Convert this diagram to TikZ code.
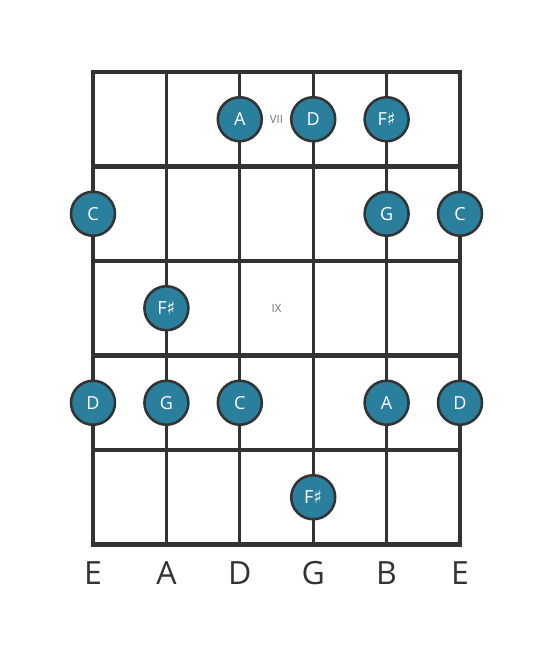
\documentclass[tikz,border=0pt]{standalone}
\usepackage{fontspec}
\setmainfont{Open Sans}
\newfontfamily\symfont{DejaVu Sans}
\usetikzlibrary{calc}
\definecolor{ink}{HTML}{333333}
\definecolor{teal}{HTML}{2A7F9C}
\def\sh{{\symfont ♯}}
\tikzset{
	note/.style={circle, draw=ink, line width=1.9pt, fill=teal, minimum size=33pt, inner sep=0pt, text=white, font=\fontsize{13.5}{13.5}\selectfont},
	fretnum/.style={text=black!55, font=\fontsize{8.5}{8.5}\selectfont},
	strname/.style={text=ink, font=\fontsize{24}{24}\selectfont}
}

\begin{document}
\begin{tikzpicture}[x=0.75pt, y=-0.75pt]
		%%%%% START %%%%%
		\useasboundingbox (0, 0) rectangle (553, 656);
		
		% strings
		\foreach \s in {0,...,5}
			\draw[line width=2.3pt, color=ink] (93+73.4*\s, 72) -- (93+73.4*\s, 544.5);
		
		% frets
		\foreach \f in {0,...,5}
			\draw[line width=3.6pt, color=ink] (91, 72+94.5*\f) -- (462, 72+94.5*\f);
		
		% fret numbers
		\node[fretnum] (vii) at (276.5, 119.25) {VII};
		\node[fretnum] (ix) at (276.5, 308.25) {IX};
		
		% notes
		\node[note] (a1) at (239.8, 119.25) {A};
		\node[note] (d1) at (313.2, 119.25) {D};
		\node[note] (fs1) at (386.6, 119.25) {F\sh};
		
		\node[note] (c2) at (93, 213.75) {C};
		\node[note] (g2) at (386.6, 213.75) {G};
		\node[note] (cc2) at (460, 213.75) {C};
		
		\node[note] (fs3) at (166.4, 308.25) {F\sh};
		
		\node[note] (d4) at (93, 402.75) {D};
		\node[note] (g4) at (166.4, 402.75) {G};
		\node[note] (c4) at (239.8, 402.75) {C};
		\node[note] (a4) at (386.6, 402.75) {A};
		\node[note] (dd4) at (460, 402.75) {D};
		
		\node[note] (fs5) at (313.2, 497.25) {F\sh};
		
		% string names
		\node[strname] (e6) at (93, 573) {E};
		\node[strname] (a5) at (166.4, 573) {A};
		\node[strname] (d4s) at (239.8, 573) {D};
		\node[strname] (g3) at (313.2, 573) {G};
		\node[strname] (b2) at (386.6, 573) {B};
		\node[strname] (e1) at (460, 573) {E};
		
		%%%%% END %%%%%
	\end{tikzpicture}
\end{document}
